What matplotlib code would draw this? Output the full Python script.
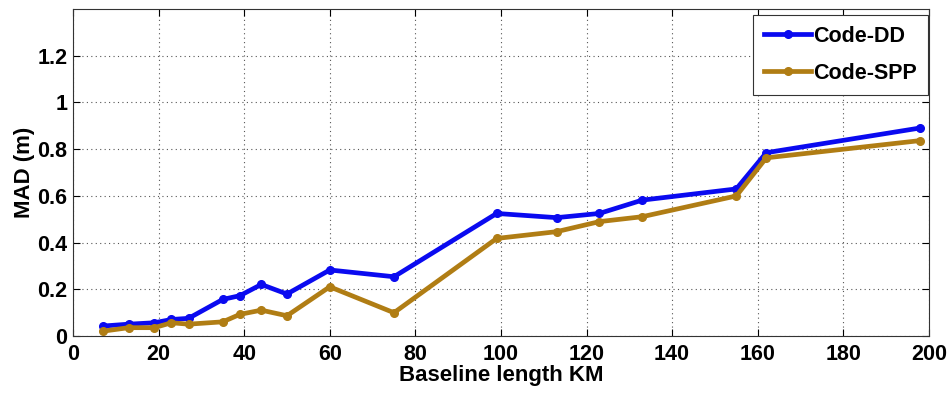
import matplotlib
matplotlib.use("Agg")
import matplotlib.pyplot as plt

# baseline length (km) and MAD (m)
baseline_km = [7, 13, 19, 23, 27, 35, 39, 44, 50, 60, 75, 99, 113, 123, 133, 155, 162, 198]
mad_code_dd = [0.043, 0.051, 0.057, 0.071, 0.076, 0.157, 0.173, 0.221, 0.18, 0.283,
               0.254, 0.525, 0.507, 0.525, 0.582, 0.63, 0.785, 0.891]
mad_code_spp = [0.021, 0.036, 0.036, 0.057, 0.051, 0.061, 0.093, 0.111, 0.087, 0.211,
                0.10, 0.418, 0.447, 0.49, 0.511, 0.60, 0.763, 0.837]

x_ticks = [0, 20, 40, 60, 80, 100, 120, 140, 160, 180, 200]
y_ticks = [0, 0.2, 0.4, 0.6, 0.8, 1.0, 1.2]
y_tick_labels = ["0", "0.2", "0.4", "0.6", "0.8", "1", "1.2"]

plt.rcParams["font.family"] = ["Liberation Sans", "DejaVu Sans"]
plt.rcParams["font.weight"] = "bold"

fig = plt.figure(figsize=(9.52, 3.94), dpi=100)
ax = fig.add_axes([0.0767, 0.147, 0.899, 0.830])

ax.plot(baseline_km, mad_code_dd, color="#0a0af0", lw=3.4, marker="o", ms=5.5,
        label="Code-DD")
ax.plot(baseline_km, mad_code_spp, color="#b07d14", lw=3.4, marker="o", ms=5.5,
        label="Code-SPP")

ax.set_xlim(0, 200)
ax.set_ylim(0, 1.4)
ax.set_xticks(x_ticks)
ax.set_yticks(y_ticks)
ax.set_yticklabels(y_tick_labels)
ax.tick_params(direction="in", top=True, right=True, labelsize=15.5, length=5,
               width=0.8)
ax.tick_params(axis="x", pad=6)
ax.tick_params(axis="y", pad=4)
for lbl in ax.get_xticklabels() + ax.get_yticklabels():
    lbl.set_fontweight("bold")

ax.grid(True, linestyle=(0, (1, 3)), color="#555555", linewidth=0.8)
for s in ax.spines.values():
    s.set_linewidth(0.8)
    s.set_color("#333333")

ax.set_xlabel("Baseline length KM", fontsize=16, fontweight="bold", labelpad=0)
ax.set_ylabel("MAD (m)", fontsize=16, fontweight="bold", labelpad=2)

leg = ax.legend(loc="upper right", bbox_to_anchor=(0.999, 0.982), fontsize=15.5,
                fancybox=False, framealpha=1, edgecolor="#333333",
                handlelength=2.2, borderaxespad=0, borderpad=0.5,
                labelspacing=0.75, handletextpad=0.1)
leg.get_frame().set_linewidth(0.8)
for t in leg.get_texts():
    t.set_fontweight("bold")

fig.savefig("out.png", dpi=100)
